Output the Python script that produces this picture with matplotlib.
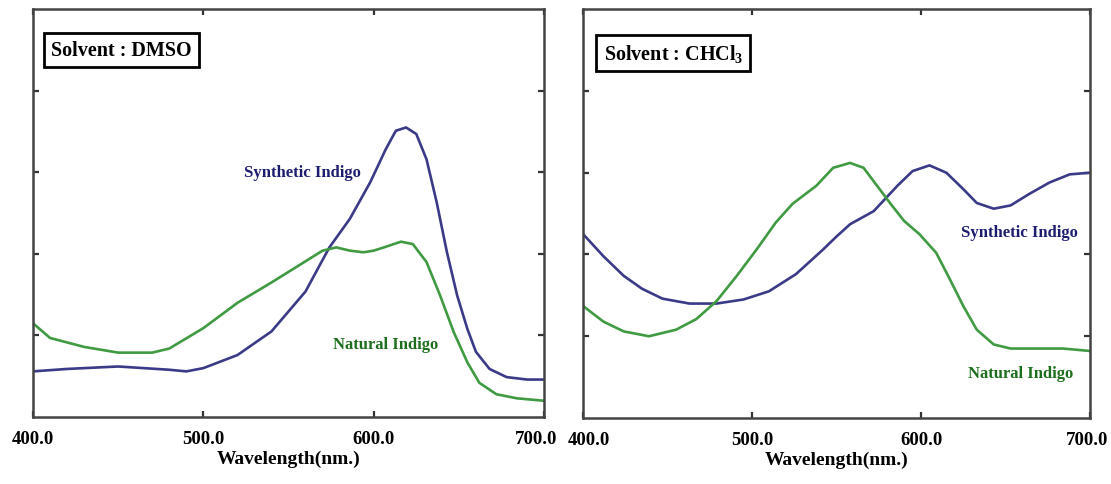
import matplotlib
matplotlib.use("Agg")
import matplotlib.pyplot as plt
from matplotlib.transforms import ScaledTranslation

plt.rcParams['font.family'] = ['Liberation Serif', 'DejaVu Serif']
plt.rcParams['font.weight'] = 'bold'
plt.rcParams['mathtext.fontset'] = 'custom'
plt.rcParams['mathtext.rm'] = 'Liberation Serif:bold'
plt.rcParams['mathtext.bf'] = 'Liberation Serif:bold'
plt.rcParams['mathtext.it'] = 'Liberation Serif:bold'
plt.rcParams['mathtext.default'] = 'bf'

# Absorbance spectra (arbitrary units) in DMSO
dmso_wl_syn = [400, 420, 450, 480, 490, 500, 520, 540, 560, 568, 574, 586, 598, 607,
               613, 619, 625, 631, 637, 643, 649, 655, 660, 668, 678, 690, 700]
dmso_syn = [0.56, 0.59, 0.62, 0.58, 0.56, 0.60, 0.76, 1.05, 1.54, 1.85, 2.08, 2.43, 2.88, 3.28,
            3.51, 3.55, 3.47, 3.16, 2.63, 2.02, 1.49, 1.08, 0.80, 0.59, 0.49, 0.46, 0.46]
dmso_wl_nat = [400, 410, 430, 450, 470, 480, 500, 520, 540, 560, 570, 578, 586, 594,
               600, 606, 616, 623, 631, 639, 647, 655, 662, 672, 684, 700]
dmso_nat = [1.15, 0.97, 0.86, 0.79, 0.79, 0.84, 1.09, 1.40, 1.65, 1.91, 2.04, 2.08, 2.04, 2.02,
            2.04, 2.08, 2.15, 2.12, 1.90, 1.49, 1.04, 0.67, 0.42, 0.28, 0.23, 0.20]

# Absorbance spectra (arbitrary units) in chloroform
chcl3_wl_syn = [400, 412, 424, 435, 447, 463, 479, 495, 510, 526, 542, 550, 558, 572,
                586, 595, 605, 615, 625, 633, 643, 653, 664, 676, 688, 700]
chcl3_syn = [2.25, 1.98, 1.74, 1.58, 1.46, 1.40, 1.40, 1.45, 1.55, 1.76, 2.06, 2.22, 2.37, 2.53,
             2.84, 3.02, 3.09, 3.00, 2.80, 2.63, 2.56, 2.60, 2.74, 2.88, 2.98, 3.00]
chcl3_wl_nat = [400, 412, 424, 439, 455, 467, 479, 491, 503, 514, 524, 538, 548, 558,
                566, 574, 582, 590, 599, 609, 617, 625, 633, 643, 653, 684, 700]
chcl3_nat = [1.37, 1.18, 1.06, 1.00, 1.08, 1.21, 1.43, 1.74, 2.07, 2.39, 2.62, 2.84, 3.06, 3.12,
             3.06, 2.84, 2.62, 2.41, 2.25, 2.02, 1.70, 1.37, 1.08, 0.90, 0.85, 0.85, 0.82]

x_ticks = [400, 500, 600, 700]
x_tick_labels = ["400.0", "500.0", "600.0", "700.0"]
y_ticks = [1, 2, 3, 4]

syn_line, nat_line = "#3a3a88", "#3f9a42"
syn_text, nat_text = "#1c1c70", "#1d6f1d"

fig = plt.figure(figsize=(11.11, 4.85), dpi=100)
ax1 = fig.add_axes([0.0297, 0.138, 0.460, 0.841])
ax2 = fig.add_axes([0.5248, 0.136, 0.4563, 0.843])

panels = [
    (ax1, dmso_wl_syn, dmso_syn, dmso_wl_nat, dmso_nat, "Solvent : DMSO",
     (0.173, 0.90), (558, 3.01), (607, 0.89)),
    (ax2, chcl3_wl_syn, chcl3_syn, chcl3_wl_nat, chcl3_nat, r"Solvent : CHCl$_3$",
     (0.178, 0.893), (658, 2.28), (659, 0.55)),
]

for ax, wsyn, syn, wnat, nat, title, tpos, spos, npos in panels:
    ax.plot(wsyn, syn, color=syn_line, lw=1.9, solid_capstyle='round', solid_joinstyle='round')
    ax.plot(wnat, nat, color=nat_line, lw=1.9, solid_capstyle='round', solid_joinstyle='round')
    ax.set_xlim(400, 700)
    ax.set_ylim(0, 5)
    ax.set_xticks(x_ticks)
    ax.set_xticklabels(x_tick_labels, fontsize=13.5, fontweight='bold')
    ax.set_yticks(y_ticks)
    ax.set_yticklabels([])
    ax.tick_params(direction='in', length=4, width=1.6, color='#333333',
                   top=True, right=True, pad=9)
    for s in ax.spines.values():
        s.set_color('#444444')
        s.set_linewidth(1.8)
    ax.set_xlabel("Wavelength(nm.)", fontsize=14, fontweight='bold', labelpad=2)
    ax.text(tpos[0], tpos[1], title, transform=ax.transAxes, fontsize=14.5,
            fontweight='bold', ha='center', va='center',
            bbox=dict(boxstyle='square,pad=0.35', fc='white', ec='black', lw=2))
    ax.text(spos[0], spos[1], "Synthetic Indigo", color=syn_text, fontsize=12,
            fontweight='bold', ha='center', va='center')
    ax.text(npos[0], npos[1], "Natural Indigo", color=nat_text, fontsize=12,
            fontweight='bold', ha='center', va='center')

# keep the end labels of neighbouring panels apart
lbl_left = ax1.get_xticklabels()[-1]
lbl_left.set_transform(lbl_left.get_transform() + ScaledTranslation(-0.08, 0, fig.dpi_scale_trans))
lbl_right = ax2.get_xticklabels()[0]
lbl_right.set_transform(lbl_right.get_transform() + ScaledTranslation(0.06, 0, fig.dpi_scale_trans))
lbl_end = ax2.get_xticklabels()[-1]
lbl_end.set_transform(lbl_end.get_transform() + ScaledTranslation(-0.03, 0, fig.dpi_scale_trans))

fig.savefig("out.png", dpi=100)
